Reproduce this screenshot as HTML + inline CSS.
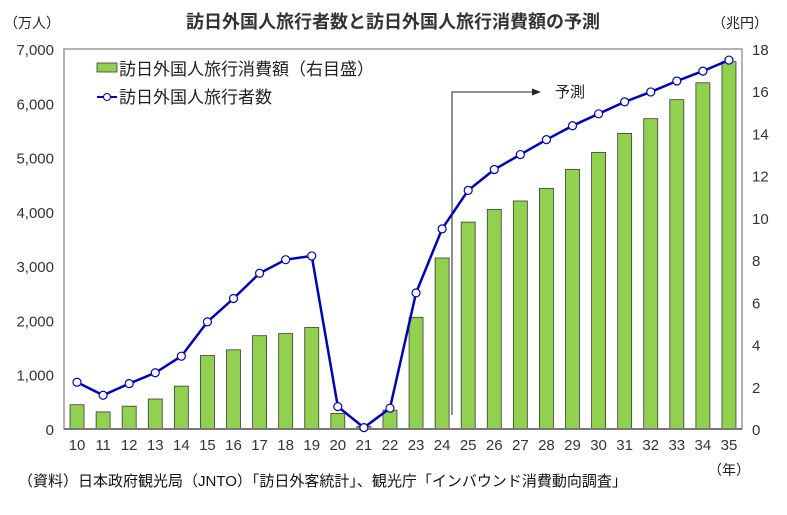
<!DOCTYPE html>
<html><head><meta charset="utf-8"><style>
body{margin:0;background:#fff;}
svg text{font-family:"Liberation Sans","Noto Sans CJK JP",sans-serif;}
</style></head><body>
<svg id="chart" width="787" height="510" xmlns="http://www.w3.org/2000/svg"></svg>
<script>
const categories=["10","11","12","13","14","15","16","17","18","19","20","21","22","23","24","25","26","27","28","29","30","31","32","33","34","35"];
const visitors=[861,622,836,1036,1341,1974,2404,2869,3119,3188,412,25,383,2507,3687,4396,4780,5055,5330,5586,5806,6026,6209,6410,6593,6796];
const spending=[1.15,0.81,1.08,1.42,2.03,3.48,3.75,4.42,4.52,4.81,0.74,0.12,0.89,5.29,8.1,9.8,10.4,10.8,11.4,12.3,13.1,14.0,14.7,15.6,16.4,17.4];
const leftTicks=[0,1000,2000,3000,4000,5000,6000,7000];
const leftTickLabels=["0","1,000","2,000","3,000","4,000","5,000","6,000","7,000"];
const rightTicks=[0,2,4,6,8,10,12,14,16,18];
const NS="http://www.w3.org/2000/svg";
const svg=document.getElementById('chart');
const X0=64,X1=742,Y0=429,Y1=49;
const step=(X1-X0)/categories.length;
const xC=i=>X0+step*(i+0.5);
const yL=v=>Y0-(v/7000)*(Y0-Y1);
const yR=v=>Y0-(v/18)*(Y0-Y1);
function mk(t,a,txt){const e=document.createElementNS(NS,t);for(const k in a)e.setAttribute(k,a[k]);if(txt!==undefined)e.textContent=txt;svg.appendChild(e);return e;}
let e;
e=mk('rect',{x:X0,y:Y1,width:X1-X0,height:Y0-Y1,fill:'none',stroke:'#999','stroke-width':1.5});


e=mk('text',{x:393,y:28,'text-anchor':'middle','font-size':18,'font-weight':'bold',fill:'#333'},'訪日外国人旅行者数と訪日外国人旅行消費額の予測');


e=mk('text',{x:4,y:28,'font-size':14,fill:'#222'},'（万人）');


e=mk('text',{x:712,y:28,'font-size':14,fill:'#222'},'（兆円）');


leftTicks.forEach((v,i)=>{
 e=mk('text',{x:54,y:yL(v)+6,'text-anchor':'end','font-size':15,fill:'#333'},leftTickLabels[i]);
 
 
});
rightTicks.forEach(v=>{
 e=mk('text',{x:752,y:yR(v)+6,'font-size':15,fill:'#333'},String(v));
 
 
});
categories.forEach((c,i)=>{
 e=mk('text',{x:xC(i),y:450,'text-anchor':'middle','font-size':15,fill:'#333'},c);
 
 
});
spending.forEach((v,i)=>{
 const w=14;
 e=mk('rect',{x:xC(i)-w/2,y:yR(v),width:w,height:Y0-yR(v),fill:'#92d050',stroke:'#3a3a3a','stroke-width':0.8});
 
 
});
e=mk('line',{x1:X0,y1:Y0,x2:X1,y2:Y0,stroke:'#777','stroke-width':2});


e=mk('polyline',{points:visitors.map((v,i)=>xC(i)+','+yL(v)).join(' '),fill:'none',stroke:'#0000c0','stroke-width':2.5});


visitors.forEach((v,i)=>{
 e=mk('circle',{cx:xC(i),cy:yL(v),r:4,fill:'#fff',stroke:'#0000c0','stroke-width':1.2});
 
 
});
e=mk('polyline',{points:'452,415 452,92 533,92',fill:'none',stroke:'#222','stroke-width':1});


e=mk('polygon',{points:'541,92 532,88.5 532,95.5',fill:'#222'});


e=mk('text',{x:555,y:97,'font-size':15,fill:'#222'},'予測');


e=mk('rect',{x:97,y:63,width:20,height:9,fill:'#92d050',stroke:'#3a3a3a','stroke-width':0.8});


e=mk('text',{x:119,y:75,'font-size':17,fill:'#222'},'訪日外国人旅行消費額（右目盛）');


e=mk('line',{x1:97,y1:97,x2:117,y2:97,stroke:'#0000c0','stroke-width':2});


e=mk('circle',{cx:107,cy:97,r:3.5,fill:'#fff',stroke:'#0000c0','stroke-width':1});


e=mk('text',{x:119,y:103,'font-size':17,fill:'#222'},'訪日外国人旅行者数');


e=mk('text',{x:708,y:475,'font-size':14,fill:'#222'},'（年）');


e=mk('text',{x:18,y:486,'font-size':15,fill:'#111'},'（資料）日本政府観光局（JNTO）「訪日外客統計」、観光庁「インバウンド消費動向調査」');


</script>
</body></html>
